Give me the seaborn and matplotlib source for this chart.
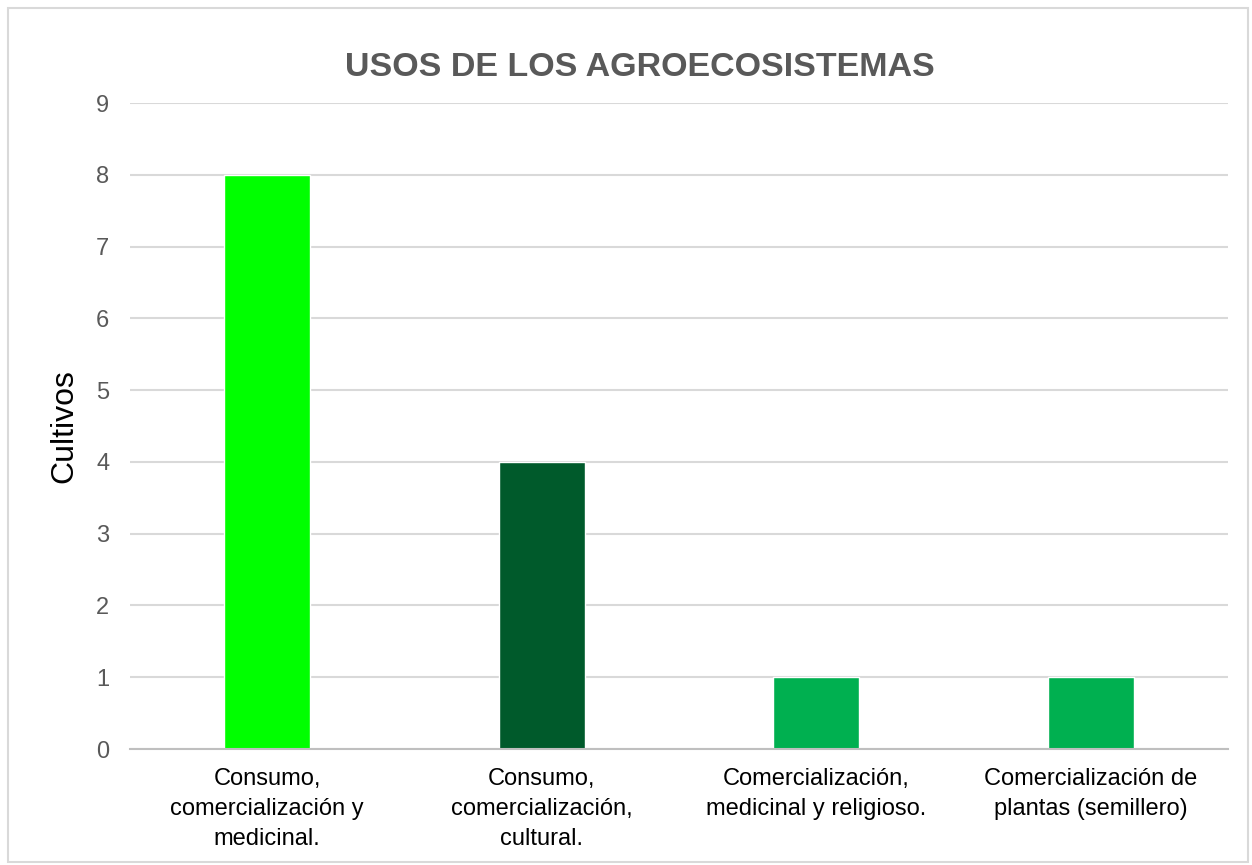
import matplotlib
matplotlib.use("Agg")
import matplotlib.pyplot as plt
import seaborn as sns
import pandas as pd
from matplotlib.patches import Rectangle

categories = ["Consumo,\ncomercialización y\nmedicinal.",
              "Consumo,\ncomercialización,\ncultural.",
              "Comercialización,\nmedicinal y religioso.",
              "Comercialización de\nplantas (semillero)"]
values = [8, 4, 1, 1]
colors = ["#00FF00", "#005A2B", "#00B050", "#00B050"]
title = "USOS DE LOS AGROECOSISTEMAS"
ylabel = "Cultivos"
yticks = list(range(0, 10))

sns.set_theme(style="white")
plt.rcParams['font.family'] = ['Liberation Sans', 'DejaVu Sans']

df = pd.DataFrame({"cat": categories, "val": values})

fig = plt.figure(figsize=(12.52, 8.65), dpi=100)
fig.patches.append(Rectangle((8/1252, 1-862/865), 1240/1252, 854/865, transform=fig.transFigure,
                             fill=False, edgecolor="#d9d9d9", linewidth=1.5))
ax = fig.add_axes([130/1252, 1-749/865, (1228-130)/1252, (749-103)/865])
sns.barplot(data=df, x="cat", y="val", hue="cat", palette=colors, legend=False,
            width=0.315, ax=ax, saturation=1)
ax.set_ylim(0, 9)
ax.set_xlim(-0.5, 3.5)
ax.set_yticks(yticks)
ax.yaxis.grid(True, color="#d9d9d9", linewidth=1.5)
ax.set_axisbelow(True)
for s in ["top", "right", "left"]:
    ax.spines[s].set_visible(False)
ax.spines["bottom"].set_color("#bfbfbf")
ax.spines["bottom"].set_linewidth(1.5)
ax.tick_params(axis="y", length=0, pad=15, labelsize=17, labelcolor="#595959")
ax.tick_params(axis="x", length=0, pad=14, labelsize=17, labelcolor="#000000")
for t in ax.get_xticklabels():
    t.set_linespacing(1.45)
ax.set_xlabel("")
ax.set_ylabel(ylabel, fontsize=23, color="#000000", labelpad=12)
fig.text(640/1252, 1-68/865, title, ha="center", va="center", fontsize=24.5, fontweight="bold", color="#595959")
fig.savefig("out.png", dpi=100)
